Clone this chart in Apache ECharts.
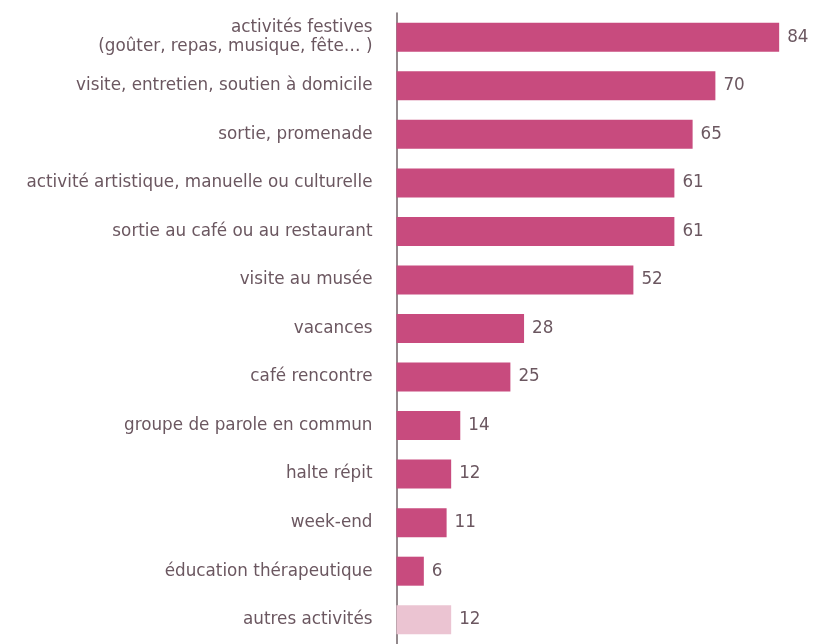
<!DOCTYPE html>
<html><head><meta charset="utf-8">
<script src="https://cdn.jsdelivr.net/npm/echarts@6/dist/echarts.min.js"></script>
<style>html,body{margin:0;padding:0;background:#fff}#c{width:815px;height:644px}</style>
</head><body><div id="c"></div>
<script>
const categories = [
  "activités festives\n(goûter, repas, musique, fête… )",
  "visite, entretien, soutien à domicile",
  "sortie, promenade",
  "activité artistique, manuelle ou culturelle",
  "sortie au café ou au restaurant",
  "visite au musée",
  "vacances",
  "café rencontre",
  "groupe de parole en commun",
  "halte répit",
  "week-end",
  "éducation thérapeutique",
  "autres activités"
];
const values = [84, 70, 65, 61, 61, 52, 28, 25, 14, 12, 11, 6, 12];
const highlight = [false,false,false,false,false,false,false,false,false,false,false,false,true];

const textColor = '#6b5760';
const chart = echarts.init(document.getElementById('c'));
chart.setOption({
  animation: false,
  grid: {left: 396.5, top: 13, width: 410, height: 638, containLabel: false},
  xAxis: {type: 'value', min: 0, max: 90, show: false},
  yAxis: {
    type: 'category', inverse: true, data: categories,
    axisLine: {show: true, lineStyle: {color: '#6e6266', width: 1.5}},
    axisTick: {show: false},
    axisLabel: {color: textColor, fontFamily: 'DejaVu Sans', fontSize: 16.8, margin: 24, lineHeight: 19, align: 'right'}
  },
  series: [{
    type: 'bar', barWidth: 29,
    data: values.map((v, i) => ({value: v, itemStyle: {color: highlight[i] ? '#ebc4d2' : '#c84b7e'}})),
    label: {show: true, position: 'right', distance: 8, color: textColor, fontFamily: 'DejaVu Sans', fontSize: 16.8}
  }]
});
</script></body></html>
